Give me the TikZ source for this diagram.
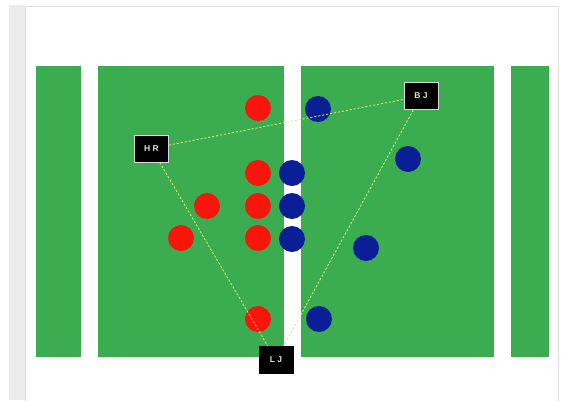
\documentclass[tikz,border=0pt]{standalone}
\usepackage{fontspec}
\setsansfont{Liberation Sans}
\usepackage{tikz}
\definecolor{pitch}{RGB}{60,172,80}
\definecolor{redteam}{RGB}{248,22,12}
\definecolor{blueteam}{RGB}{10,30,150}
\definecolor{chalk}{RGB}{222,240,120}
\definecolor{pagegray}{RGB}{236,236,236}

\begin{document}
\begin{tikzpicture}[x=1pt,y=-1pt,
  zone/.style={fill=pitch,draw=none},
  redp/.style={circle,fill=redteam,inner sep=0pt,minimum size=26pt},
  bluep/.style={circle,fill=blueteam,inner sep=0pt,minimum size=26pt},
  tag/.style={draw=white!85!black,fill=black,line width=0.9pt,inner sep=0pt,
              minimum width=34pt,minimum height=27pt,text=white!88!black,
              font=\sffamily\bfseries\fontsize{8.5}{9}\selectfont},
  link/.style={draw=chalk,line width=0.8pt,dash pattern=on 2.2pt off 1.8pt}]
\useasboundingbox (0,0) rectangle (563,400);
% page behind the pitch
\fill[pagegray] (9,5) rectangle (25,400);
\draw[fill=white,draw=white!88!black] (25,6) rectangle (558,402);
% pitch zones
\fill[zone] (36,66) rectangle (81,357);
\fill[zone] (98,66) rectangle (284,357);
\fill[zone] (301,66) rectangle (494,357);
\fill[zone] (511,66) rectangle (549,357);
% red players
\node[redp] (r1) at (258,108) {};
\node[redp] (r2) at (258,173) {};
\node[redp] (r3) at (258,206) {};
\node[redp] (r4) at (258,238) {};
\node[redp] (r5) at (207,206) {};
\node[redp] (r6) at (181,238) {};
\node[redp] (r7) at (258,319) {};
% blue players
\node[bluep] (b1) at (318,109) {};
\node[bluep] (b2) at (292,173) {};
\node[bluep] (b3) at (292,206) {};
\node[bluep] (b4) at (292,239) {};
\node[bluep] (b5) at (408,159) {};
\node[bluep] (b6) at (366,248) {};
\node[bluep] (b7) at (319,319) {};
% tags
\node[tag] (hr) at (151.5,148.5) {H\hspace{2.5pt}R};
\node[tag] (bj) at (421,96) {B\hspace{2.5pt}J};
\node[tag,draw=black] (lj) at (276,360) {L\hspace{2.5pt}J};
\draw[link] (hr)--(bj);
\draw[link] (hr)--(lj);
\draw[link] (bj)--(lj);
\end{tikzpicture}
\end{document}
